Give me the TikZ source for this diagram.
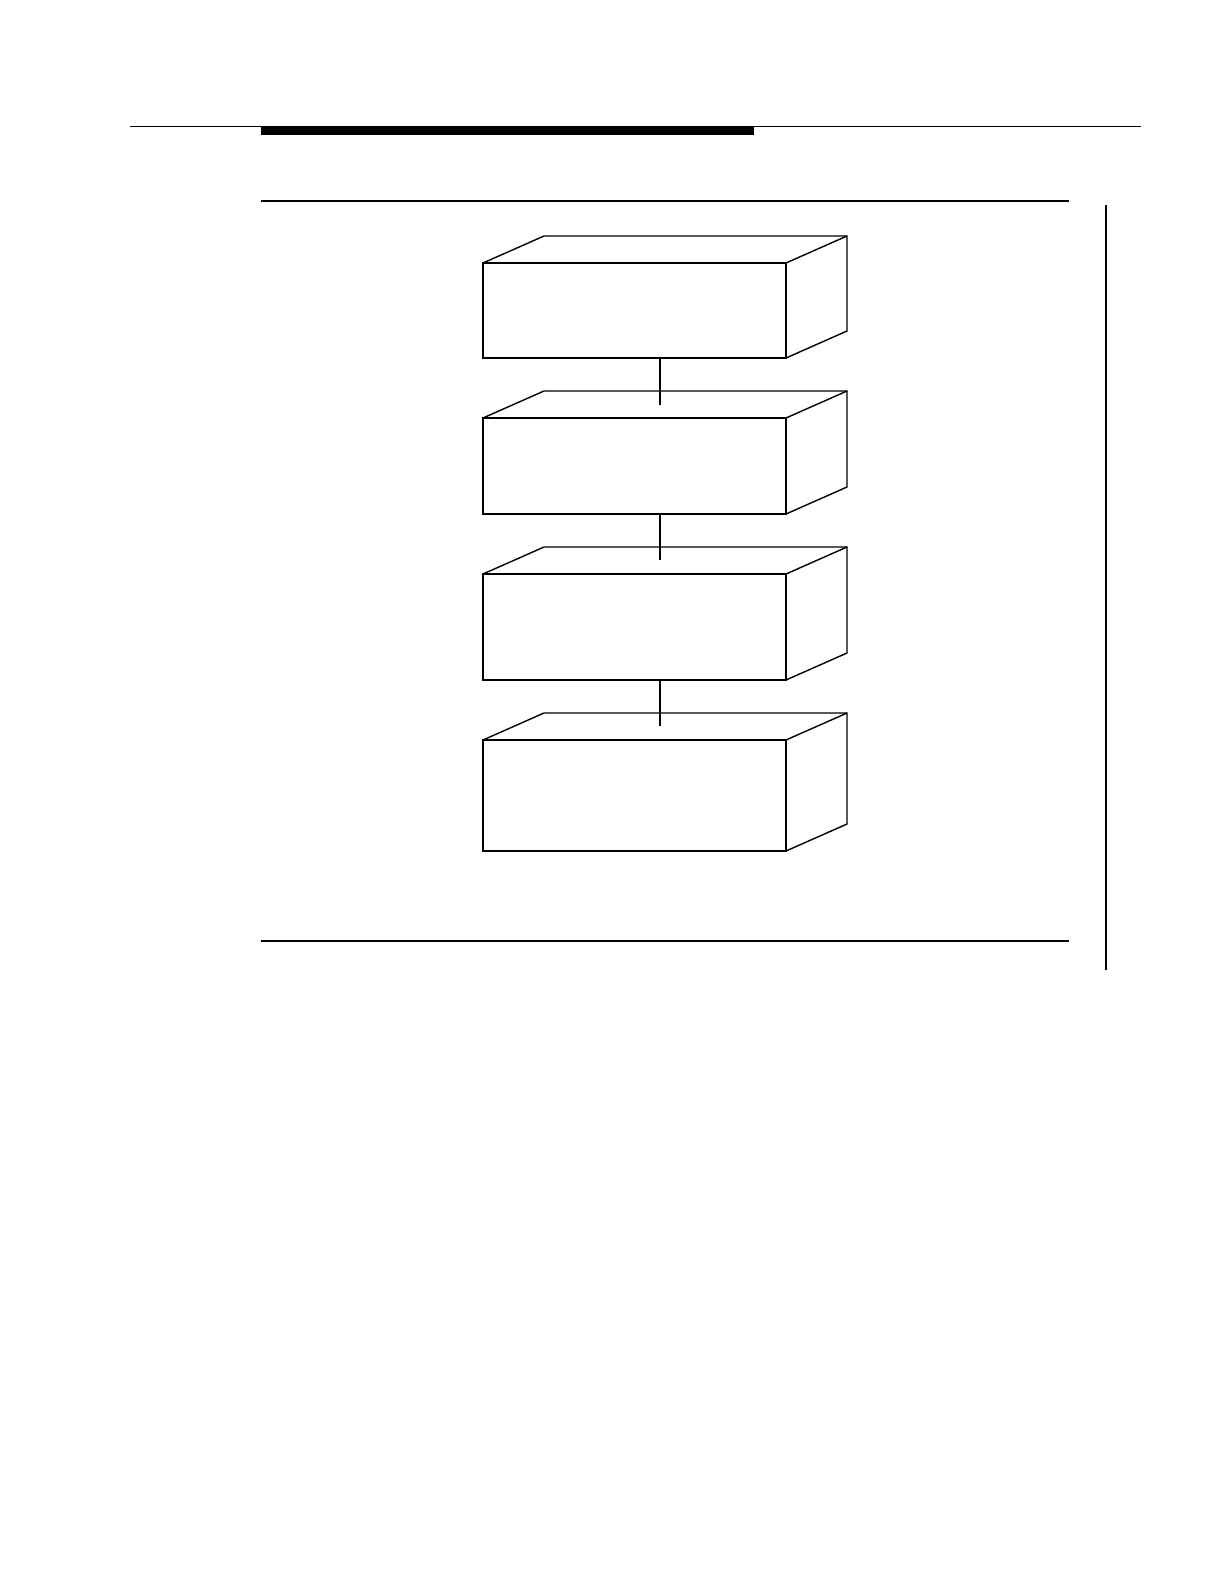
\documentclass[tikz,border=0pt]{standalone}
\usetikzlibrary{calc}
\begin{document}
\begin{tikzpicture}[x=1pt,y=-1pt,
  face/.style={draw,line width=1.4pt,line join=miter},
  frontbox/.style={draw,line width=1.4pt,rectangle,inner sep=0pt,outer sep=0pt,minimum width=303pt,anchor=north west},
  rule/.style={line width=#1}]
\useasboundingbox (0,0) rectangle (1224,1584);
% page rules
\draw[rule=1pt] (130,127) -- (1141,127);
\fill (261,126) rectangle (754,135);
\draw[rule=2pt] (261,201) -- (1069,201);
\draw[rule=1.2pt] (261,941) -- (1069,941);
\draw[rule=2pt] (1106,205) -- (1106,970);
% boxes
\foreach \n/\t/\h in {1/263/95,2/418/96,3/574/106,4/740/111}{
  \node[frontbox,minimum height=\h pt] (b\n) at (483,\t) {};
  \draw[face] (b\n.north west) -- ++(61,-27) -- ++(303,0) -- ++(0,\h) -- (b\n.south east);
  \draw[face] (b\n.north east) -- ++(61,-27);
}
% connectors
\coordinate (c12) at (660,405);
\coordinate (c23) at (660,560);
\coordinate (c34) at (660,726);
\draw[line width=1.4pt] (b1.south -| c12) -- (c12);
\draw[line width=1.4pt] (b2.south -| c23) -- (c23);
\draw[line width=1.4pt] (b3.south -| c34) -- (c34);
\end{tikzpicture}
\end{document}
